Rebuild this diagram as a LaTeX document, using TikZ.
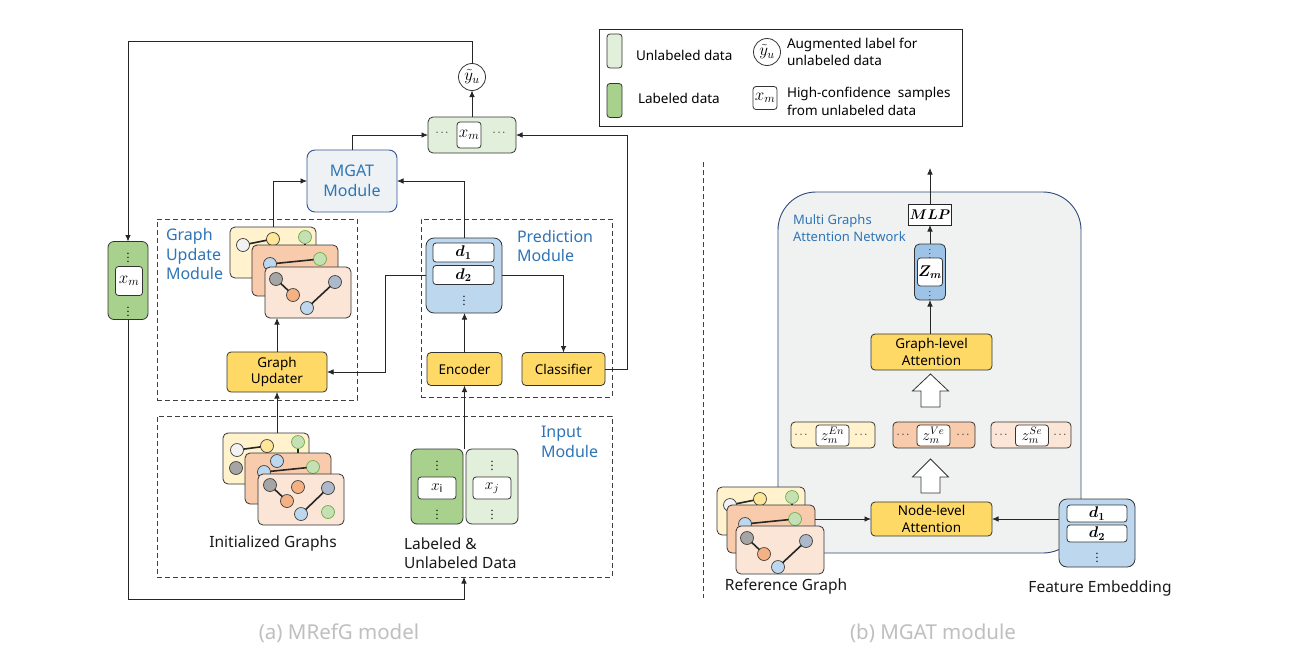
\RequirePackage{fix-cm}
\documentclass[tikz,border=0pt]{standalone}
\usepackage{amsmath}
\usepackage{bm}
\usepackage{fontspec}
\setmainfont{Noto Sans}
\usetikzlibrary{arrows.meta}

\definecolor{cardY}{HTML}{FFF2CC}
\definecolor{cardO}{HTML}{F8CBAD}
\definecolor{cardP}{HTML}{FBE5D6}
\definecolor{cWhite}{HTML}{F2F2F2}
\definecolor{cYel}{HTML}{FFE699}
\definecolor{cGrn}{HTML}{C5E0B4}
\definecolor{cGrnB}{HTML}{70AD47}
\definecolor{cGry}{HTML}{A5A5A5}
\definecolor{cBlu}{HTML}{BDD7EE}
\definecolor{cOra}{HTML}{F4B183}
\definecolor{cStl}{HTML}{ADB9CA}
\definecolor{boxY}{HTML}{FFD966}
\definecolor{grnD}{HTML}{A9D18E}
\definecolor{grnL}{HTML}{E2EFDA}
\definecolor{bluL}{HTML}{BDD7EE}
\definecolor{bluM}{HTML}{9DC3E6}
\definecolor{mgF}{HTML}{EEF2F4}
\definecolor{mgB}{HTML}{2F5597}
\definecolor{txtB}{HTML}{2E75B6}
\definecolor{bigF}{HTML}{F0F2F2}
\definecolor{bigB}{HTML}{2F4A7A}
\definecolor{capG}{HTML}{BFBFBF}
\definecolor{lnC}{HTML}{262626}

\newcommand\myfBox{\fontsize{13.5}{16.5}\selectfont}
\newcommand\myfMod{\fontsize{16}{19.5}\selectfont}
\newcommand\myfLab{\fontsize{15.5}{19.5}\selectfont}
\newcommand\myfLeg{\fontsize{13.5}{17.5}\selectfont}
\newcommand\myfCap{\fontsize{20.5}{23}\selectfont}
\newcommand\myfNet{\fontsize{13}{17.5}\selectfont}
\newcommand\myfMath{\fontsize{17}{18}\selectfont}
\newcommand\myfMathZ{\fontsize{15.5}{16}\selectfont}
\newcommand\myfMathS{\fontsize{14}{15}\selectfont}
\newcommand\myfDot{\fontsize{11}{12}\selectfont}
\newcommand\myfTiny{\fontsize{8}{9}\selectfont}

% stack of three graph cards (update / reference style)
% #1 prefix, #2 card1 pos, #3 card2 pos, #4 card3 pos, #5 card size options
\newcommand\mystackUR[5]{%
  \node[card, fill=cardY, #5] (#1a) at #2 {};
  \begin{scope}[shift={#2}]
    \node[gc, fill=cWhite] (#1aw) at (13,18) {};
    \node[gc, fill=cYel] (#1ay) at (43,12) {};
    \node[gcg] (#1ag) at (75,10) {};
  \end{scope}
  \draw[gedge] (#1aw) -- (#1ay);
  \draw[gedge] (#1ag.south) -- ++(0,12);
  \node[card, fill=cardO, #5] (#1b) at #3 {};
  \begin{scope}[shift={#3}]
    \node[gc, fill=cBlu] (#1bb) at (18,19) {};
    \node[gcg] (#1bg) at (68,14) {};
  \end{scope}
  \draw[gedge] (#1bb) -- (#1bg);
  \node[card, fill=cardP, #5] (#1c) at #4 {};
  \begin{scope}[shift={#4}]
    \node[gc, fill=cGry] (#1cg) at (11,12) {};
    \node[gc, fill=cOra] (#1co) at (28,28) {};
    \node[gc, fill=cStl] (#1cs) at (70,15) {};
    \node[gc, fill=cBlu] (#1cb) at (42,41) {};
  \end{scope}
  \draw[gedge] (#1cg) -- (#1co);
  \draw[gedge] (#1cs) -- (#1cb);
}

\begin{document}
\begin{tikzpicture}[x=1pt,y=-1pt,
  every node/.style={inner sep=0pt, outer sep=0pt},
  arr/.style={draw=lnC, line width=0.8pt, -{Latex[length=6.5pt,width=5.5pt]}},
  dbox/.style={draw=black!75, dash pattern=on 5pt off 3pt, line width=0.9pt},
  ybox/.style={draw=black!80, fill=boxY, rounded corners=4pt, line width=0.8pt, font=\myfBox, align=center},
  card/.style={draw=black!80, rounded corners=5pt, line width=0.8pt, anchor=north west, minimum width=86pt, minimum height=51pt},
  gc/.style={circle, draw=black!75, line width=0.7pt, minimum size=13pt},
  gcg/.style={gc, fill=cGrn, draw=cGrnB},
  gedge/.style={line width=1.6pt, draw=black!85},
  wbox/.style={draw=black!80, fill=white, rounded corners=3pt, line width=0.8pt, font=\myfMath},
  dotsty/.style={font=\myfDot},
  modlab/.style={text=txtB, font=\myfMod, align=left, anchor=west},
  lab/.style={font=\myfLab, text=black!90},
  datacol/.style={draw=black!80, rounded corners=6pt, line width=0.8pt},
]
\useasboundingbox (0,0) rectangle (1307,654);
\fill[white] (0,0) rectangle (1307,654);

% ---------------- Legend ----------------
\node[draw=black!85, line width=0.9pt, minimum width=363pt, minimum height=97pt] (leg) at (780.5,77.5) {};
\node[datacol, fill=grnL, rounded corners=3pt, minimum width=15pt, minimum height=34pt] (swL) at (614.5,51) {};
\node[datacol, fill=grnD, rounded corners=3pt, minimum width=15pt, minimum height=34pt] (swD) at (614.5,100.5) {};
\node[anchor=west, font=\myfLeg] (tL) at (636,55) {Unlabeled data};
\node[anchor=west, font=\myfLeg] (tD) at (638,98) {Labeled data};
\node[circle, draw=black!80, line width=0.8pt, minimum size=27pt, font=\myfMath] (legy) at (767,52) {$\tilde{y}_u$};
\node[anchor=west, font=\myfLeg, align=left] (tY) at (787,52) {Augmented label for\\unlabeled data};
\node[wbox, minimum width=24pt, minimum height=23pt] (legx) at (765,98) {$x_m$};
\node[anchor=west, font=\myfLeg, align=left] (tX) at (787,101.5) {High-confidence\ \ samples\\from unlabeled data};

% ---------------- (a) MRefG model ----------------
% dashed module frames
\node[dbox, minimum width=200pt, minimum height=181pt] (gumod) at (257,309.5) {};
\node[dbox, minimum width=191pt, minimum height=178pt] (prmod) at (516.5,308) {};
\node[dbox, minimum width=455pt, minimum height=161pt] (inmod) at (384.5,496.5) {};
\node[modlab] (gulab) at (166,254) {Graph\\Update\\Module};
\node[modlab] (prlab) at (517,246) {Prediction\\Module};
\node[modlab] (inlab) at (541,442) {Input\\Module};

% top: augmented label and selected samples
\node[circle, draw=black!80, fill=white, line width=0.8pt, minimum size=27pt, font=\myfMath] (yu) at (472,77) {$\tilde{y}_u$};
\node[datacol, fill=grnL, rounded corners=5pt, minimum width=88pt, minimum height=36pt] (xmrow) at (472,135) {};
\node[wbox, minimum width=24pt, minimum height=26pt] (xmin) at (469,135) {$x_m$};
\node[dotsty] (xmd1) at (443,133) {$\cdots$};
\node[dotsty] (xmd2) at (500,133) {$\cdots$};

% MGAT module
\node[draw=mgB, fill=mgF, rounded corners=8pt, line width=0.9pt, minimum width=90pt, minimum height=62pt,
      text=txtB, font=\myfMod, align=center] (mgat) at (352,181) {MGAT\\Module};

% left x_m column
\node[datacol, fill=grnD, minimum width=40pt, minimum height=78pt] (xmL) at (128,280.5) {};
\node[wbox, minimum width=27pt, minimum height=29pt] (xmLin) at (129,281) {$x_m$};
\node[dotsty] (xmLd1) at (128,255) {$\vdots$};
\node[dotsty] (xmLd2) at (128,309) {$\vdots$};

% graph update stack
\mystackUR{gs}{(230,227)}{(252,245)}{(265,267)}{}

% graph updater
\node[ybox, minimum width=100pt, minimum height=40pt] (gu) at (277,372) {Graph\\Updater};

% prediction: embeddings, encoder, classifier
\node[datacol, fill=bluL, rounded corners=8pt, minimum width=76pt, minimum height=75pt] (dbx) at (464,275.5) {};
\node[wbox, minimum width=61pt, minimum height=19pt, font=\myfMathZ] (d1) at (463.5,252.5) {$\bm{d_1}$};
\node[wbox, minimum width=61pt, minimum height=19pt, font=\myfMathZ] (d2) at (463.5,275) {$\bm{d_2}$};
\node[dotsty] (dd) at (464,298) {$\vdots$};
\node[ybox, minimum width=75pt, minimum height=33pt] (enc) at (464.5,369) {Encoder};
\node[ybox, minimum width=83pt, minimum height=33pt] (cls) at (563.5,369) {Classifier};

% initialized graphs
\node[card, fill=cardY] (ig1) at (223,433) {};
\begin{scope}[shift={(223,433)}]
  \node[gc, fill=cWhite] (ig1w) at (14,17) {};
  \node[gc, fill=cYel] (ig1y) at (44,13) {};
  \node[gcg] (ig1g) at (75,9) {};
  \node[gc, fill=cGry] (ig1k) at (13,35) {};
\end{scope}
\draw[gedge] (ig1w) -- (ig1y);
\draw[gedge] (ig1g.south) -- ++(0,12);
\node[card, fill=cardO] (ig2) at (245,453) {};
\begin{scope}[shift={(245,453)}]
  \node[gc, fill=cBlu] (ig2b1) at (32,8) {};
  \node[gc, fill=cBlu] (ig2b2) at (19,19) {};
  \node[gcg] (ig2g) at (68,14) {};
\end{scope}
\draw[gedge] (ig2b2) -- (ig2g);
\node[card, fill=cardP] (ig3) at (258,474) {};
\begin{scope}[shift={(258,474)}]
  \node[gc, fill=cGry] (ig3k) at (12,11) {};
  \node[gc, fill=cOra] (ig3o) at (29,27) {};
  \node[gc, fill=cOra] (ig3o2) at (40,13) {};
  \node[gc, fill=cStl] (ig3s) at (70,14) {};
  \node[gc, fill=cBlu] (ig3b) at (43,40) {};
  \node[gcg] (ig3g) at (70,38) {};
\end{scope}
\draw[gedge] (ig3k) -- (ig3o);
\draw[gedge] (ig3s) -- (ig3b);
\node[lab] (iglab) at (273,543) {Initialized Graphs};

% labeled / unlabeled data
\node[datacol, fill=grnD, minimum width=52pt, minimum height=75pt] (labc) at (437,486.5) {};
\node[wbox, minimum width=38pt, minimum height=22pt, font=\myfMathZ] (xi) at (437,488) {$x_{\mathrm{i}}$};
\node[dotsty] (labd1) at (437,463) {$\vdots$};
\node[dotsty] (labd2) at (437,512) {$\vdots$};
\node[datacol, fill=grnL, minimum width=52pt, minimum height=75pt] (unlc) at (492,486.5) {};
\node[wbox, minimum width=38pt, minimum height=22pt, font=\myfMathZ] (xj) at (492,488) {$x_j$};
\node[dotsty] (unld1) at (492,463) {$\vdots$};
\node[dotsty] (unld2) at (492,512) {$\vdots$};
\node[lab, anchor=west, align=left] (dlab) at (404,553) {Labeled \&\\Unlabeled Data};

% connectors (a)
\coordinate (tl) at (128,41);
\coordinate (lb) at (464,599);
\draw[arr] (yu.north) |- (tl) -- (xmL.north);
\draw[arr] (xmrow.north) -- (yu.south);
\draw[arr] (mgat.north) |- (xmrow.west);
\draw[arr] (gsa.north) |- (mgat.west);
\draw[arr] (dbx.north) |- (mgat.east);
\draw[arr] (cls.east) -- ++(22,0) |- (xmrow.east);
\draw[arr] (dbx.west) -- ++(-41,0) |- (gu.east);
\draw[arr] (dbx.east) -| (cls.north);
\draw[arr] (enc.north) -- (enc.north |- dbx.south);
\draw[arr] (gu.north) -- (gu.north |- gsc.south);
\draw[arr] (gu.south |- ig1.north) -- (gu.south);
\draw[arr] (enc.south |- labc.north) -- (enc.south);
\draw[arr] (xmL.south) |- (lb) -- (lb |- inmod.south);

% separator
\draw[dbox] (703,162) -- (703,598);

% ---------------- (b) MGAT module ----------------
\node[draw=bigB, fill=bigF, rounded corners=38pt, line width=0.9pt, minimum width=303pt, minimum height=361pt] (net) at (929.5,372.5) {};
\node[text=txtB, font=\myfNet, align=left, anchor=west] (netlab) at (793,228) {Multi Graphs\\Attention Network};

\node[draw=black!85, fill=white, line width=0.8pt, minimum width=43pt, minimum height=21pt, font=\myfMathS] (mlp) at (930,214.5) {$\bm{MLP}$};
\coordinate (outtop) at (930,168);
\draw[arr] (mlp.north) -- (outtop);

\node[datacol, fill=bluM, rounded corners=5pt, minimum width=31pt, minimum height=56pt] (zm) at (930,272) {};
\node[wbox, minimum width=25pt, minimum height=28pt, font=\myfMathZ] (zmin) at (930,272) {$\bm{Z_m}$};
\node[font=\myfTiny] (zmd1) at (930,251) {$\vdots$};
\node[font=\myfTiny] (zmd2) at (930,293) {$\vdots$};
\draw[arr] (zm.north) -- (mlp.south);

\node[ybox, minimum width=121pt, minimum height=36pt] (gla) at (931.5,352) {Graph-level\\Attention};
\draw[arr] (gla.north -| zm.south) -- (zm.south);

% block arrows
\draw[draw=black!80, fill=white, line width=0.8pt]
  (930.5,374) -- (948.5,391) -- (940,391) -- (940,407) -- (921,407) -- (921,391) -- (912.5,391) -- cycle;
\draw[draw=black!80, fill=white, line width=0.8pt]
  (930.5,459) -- (948.5,477) -- (940,477) -- (940,493) -- (921,493) -- (921,477) -- (912.5,477) -- cycle;

% view embeddings
\node[datacol, fill=cardY, rounded corners=4pt, minimum width=84pt, minimum height=26pt] (zen) at (833,435) {};
\node[wbox, minimum width=33pt, minimum height=21pt, font=\myfMathZ] (zenin) at (832.5,435.5) {$z_m^{En}$};
\node[dotsty] (zend1) at (802,435) {$\cdots$};
\node[dotsty] (zend2) at (862,435) {$\cdots$};
\node[datacol, fill=cardO, rounded corners=4pt, minimum width=82pt, minimum height=26pt] (zve) at (934,435) {};
\node[wbox, minimum width=33pt, minimum height=21pt, font=\myfMathZ] (zvein) at (933.5,435.5) {$z_m^{Ve}$};
\node[dotsty] (zved1) at (904,435) {$\cdots$};
\node[dotsty] (zved2) at (964,435) {$\cdots$};
\node[datacol, fill=cardP, rounded corners=4pt, minimum width=80pt, minimum height=26pt] (zse) at (1031,435) {};
\node[wbox, minimum width=33pt, minimum height=21pt, font=\myfMathZ] (zsein) at (1032,435.5) {$z_m^{Se}$};
\node[dotsty] (zsed1) at (1002,435) {$\cdots$};
\node[dotsty] (zsed2) at (1061,435) {$\cdots$};

\node[ybox, minimum width=121pt, minimum height=34pt] (nla) at (931.5,519) {Node-level\\Attention};

% reference graph
\mystackUR{rf}{(717,487)}{(727,505)}{(736,526)}{minimum width=88pt, minimum height=48pt}
\node[lab] (rflab) at (786,586) {Reference Graph};

% feature embedding
\node[datacol, fill=bluL, rounded corners=8pt, minimum width=76pt, minimum height=68pt] (fe) at (1097,533) {};
\node[wbox, minimum width=60pt, minimum height=17pt, font=\myfMathZ] (fd1) at (1097,513.5) {$\bm{d_1}$};
\node[wbox, minimum width=60pt, minimum height=17pt, font=\myfMathZ] (fd2) at (1097,533.5) {$\bm{d_2}$};
\node[dotsty] (fdd) at (1097,555) {$\vdots$};
\node[lab] (felab) at (1100,588) {Feature Embedding};

\draw[arr] (rfb.east |- nla.west) -- (nla.west);
\draw[arr] (fe.west |- nla.east) -- (nla.east);

% captions
\node[font=\myfCap, text=capG] (capa) at (339,633) {(a) MRefG model};
\node[font=\myfCap, text=capG] (capb) at (933,633) {(b) MGAT module};
\end{tikzpicture}
\end{document}
